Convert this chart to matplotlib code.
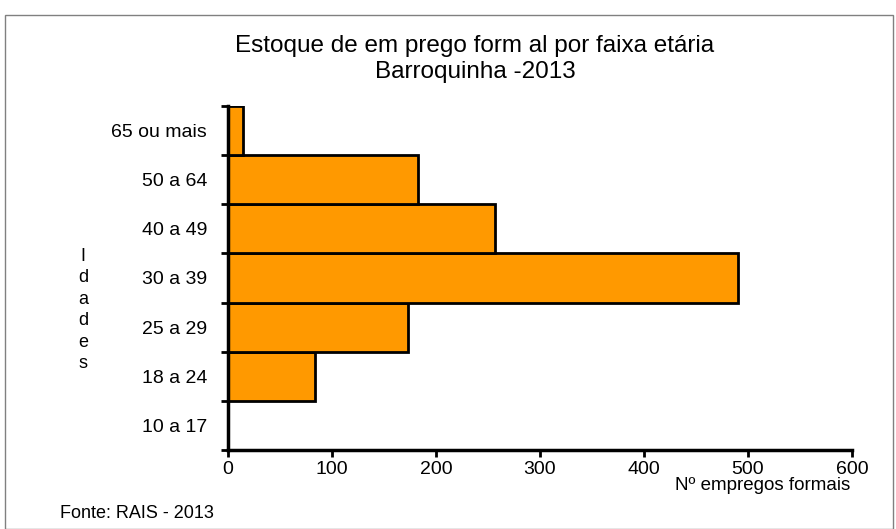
import matplotlib.pyplot as plt
from matplotlib.patches import Rectangle

plt.rcParams['font.family'] = ['Liberation Sans', 'DejaVu Sans']

faixas = ['10 a 17', '18 a 24', '25 a 29', '30 a 39', '40 a 49', '50 a 64', '65 ou mais']
empregos = [0, 84, 173, 490, 257, 183, 14]
xticks = [0, 100, 200, 300, 400, 500, 600]

W, H = 896, 529
fig = plt.figure(figsize=(W / 100, H / 100), dpi=100)

# frame around the chart
fig.patches.append(Rectangle((5 / W, 0), 888 / W, (H - 15) / H, transform=fig.transFigure,
                             fill=False, edgecolor='#808080', linewidth=1))

ax = fig.add_axes([228 / W, 1 - 450 / H, 624 / W, 344 / H])
pos = list(range(len(faixas)))
ax.barh(pos, empregos, height=1.0, color='#FF9900', edgecolor='black', linewidth=2)

ax.set_xlim(0, 600)
ax.set_ylim(-0.5, len(faixas) - 0.5)
ax.set_xticks(xticks)
ax.set_xticklabels([str(v) for v in xticks], fontsize=14)
ax.set_yticks(pos)
ax.set_yticklabels(faixas, fontsize=14)
ax.tick_params(axis='y', length=0, pad=15)
ax.set_yticks([p - 0.5 for p in pos] + [len(faixas) - 0.5], minor=True)
ax.tick_params(axis='y', which='minor', length=5, width=2, direction='out')
ax.tick_params(axis='x', length=5, width=2, direction='out', pad=3)

for s in ['top', 'right']:
    ax.spines[s].set_visible(False)
for s in ['left', 'bottom']:
    ax.spines[s].set_linewidth(2.5)

fig.text(475 / W, 1 - 46 / H, 'Estoque de em prego form al por faixa etária',
         ha='center', va='center', fontsize=17.5)
fig.text(475 / W, 1 - 72 / H, 'Barroquinha -2013', ha='center', va='center', fontsize=17.5)

fig.text(83 / W, 1 - 310 / H, '\n'.join('Idades'), ha='center', va='center',
         fontsize=13, linespacing=1.35)
fig.text(60 / W, 1 - 513 / H, 'Fonte: RAIS - 2013', ha='left', va='center', fontsize=13)
fig.text(850 / W, 1 - 486 / H, 'Nº empregos formais', ha='right', va='center', fontsize=13.5)

fig.savefig('out.png', dpi=100)
